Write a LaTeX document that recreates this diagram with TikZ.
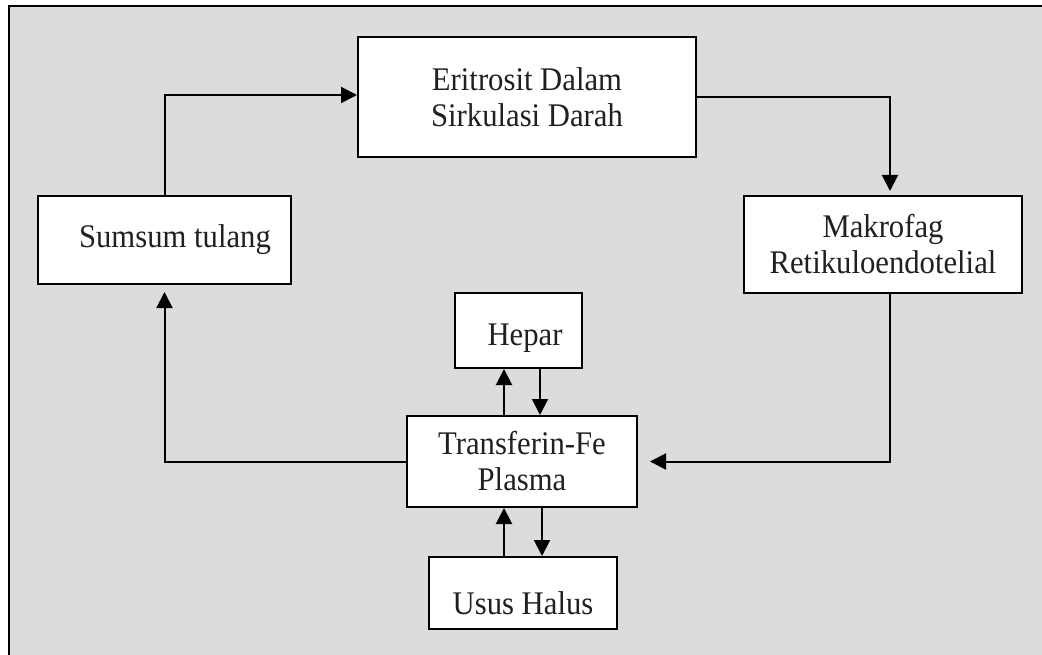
\documentclass[tikz,border=0pt]{standalone}
\usepackage{fontspec}
\setmainfont{Liberation Serif}[FakeStretch=0.93]
\usetikzlibrary{arrows.meta}
\definecolor{bggray}{HTML}{DCDCDC}
\definecolor{txt}{HTML}{231F20}
\begin{document}
\begin{tikzpicture}[x=1pt,y=-1pt,
  box/.style={draw=black, line width=2pt, fill=white, inner sep=0pt, align=center,
    text=txt, font=\fontsize{33}{36}\selectfont},
  arr/.style={line width=2pt, -{Triangle[length=16pt,width=16pt]}}]
\useasboundingbox (0,0) rectangle (1042,655);
\fill[white] (0,0) rectangle (1042,655);
\fill[bggray] (9,6) rectangle (1046,660);
\draw[line width=2pt] (9,660) -- (9,6) -- (1046,6);

\node[box, minimum width=338pt, minimum height=120pt] (ery) at (527,97) {Eritrosit Dalam\\Sirkulasi Darah};
\node[box, minimum width=253pt, minimum height=88pt] (bone) at (164.5,240) {\hspace*{21pt}Sumsum tulang};
\node[box, minimum width=278pt, minimum height=97pt] (mac) at (883,244.5) {Makrofag\\Retikuloendotelial};
\node[box, minimum width=127pt, minimum height=75pt, text height=29pt, text depth=0pt] (hep) at (518.5,330.5) {\hspace*{13pt}Hepar};
\node[box, minimum width=230pt, minimum height=91pt] (tf) at (522,461.5) {Transferin-Fe\\Plasma};
\node[box, minimum width=188pt, minimum height=72pt, text height=42pt, text depth=0pt] (gut) at (523,593) {Usus Halus};

% cycle
\draw[arr] (bone.north) |- ([yshift=2pt]ery.west);
\draw[arr, shorten >=4pt] (ery.east) -| ([xshift=7pt]mac.north);
\draw[arr, shorten >=12pt] ([xshift=7pt]mac.south) |- (tf.east);
\draw[arr, shorten >=7pt] (tf.west) -| (bone.south);

% hepar exchange
\draw[arr] (tf.north -| 504,0) -- (hep.south -| 504,0);
\draw[arr] (hep.south -| 540,0) -- (tf.north -| 540,0);
% gut exchange
\draw[arr] (gut.north -| 504,0) -- (tf.south -| 504,0);
\draw[arr] (tf.south -| 542,0) -- (gut.north -| 542,0);
\end{tikzpicture}
\end{document}
